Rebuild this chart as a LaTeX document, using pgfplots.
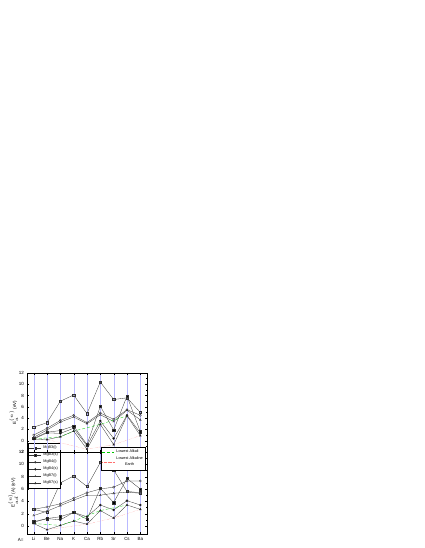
\documentclass[border=0pt]{standalone}
\usepackage{pgfplots}
\pgfplotsset{compat=1.18}
\usepackage{fontspec}
\setmainfont{Liberation Sans}
\definecolor{gridblue}{RGB}{185,185,255}
\definecolor{lgreen}{RGB}{0,200,0}
\definecolor{lred}{RGB}{255,110,110}
\begin{document}
\begin{tikzpicture}[x=1pt,y=1pt]
\useasboundingbox (0,0) rectangle (424,548);
\pgfplotsset{
  chart/.style={
    font=\fontsize{4.5}{5}\selectfont,
    /pgf/number format/assume math mode=true,
    scale only axis, width=120pt,
    xmin=-0.5, xmax=8.5, xtick={0,...,8},
    xmajorgrids, major grid style={gridblue, line width=0.3pt},
    tick align=inside, major tick length=2pt, minor tick length=1pt,
    minor y tick num=1,
    tick style={black, line width=0.3pt},
    axis line style={line width=0.5pt},
    xtick pos=both, ytick pos=both,
    yticklabel style={xshift=0.5pt},
    every axis plot/.append style={line width=0.3pt, mark size=1.1pt},
    legend style={font=\fontsize{3.8}{4}\selectfont, draw=black, line width=0.35pt, fill=white,
      inner sep=0.8pt, row sep=-1.2pt, cells={anchor=west}},
    legend cell align=left,
    legend image post style={xscale=0.7},
  },
  sq/.style={black!80, mark=square, mark options={fill=white, solid}},
  sqf/.style={black!80, mark=square*, mark options={fill=black, solid}},
  ci/.style={black!80, mark=o, mark options={fill=white, solid}},
  cif/.style={black!80, mark=*, mark options={fill=black, solid}},
  tr/.style={black!80, mark=triangle, mark options={fill=white, solid}},
  trf/.style={black!80, mark=triangle*, mark options={fill=black, solid}},
}
% ---------- bottom panel ----------
\begin{axis}[chart, at={(27pt,14pt)}, anchor=south west, height=82pt,
  ymin=-1.3, ymax=12, ytick={0,2,...,12},
  xticklabels={Li,Be,Na,K,Ca,Rb,Sr,Cs,Ba},
  xticklabel style={yshift=0.5pt},
  legend style={at={(0.01,1.11)}, anchor=north west},
  ylabel={E$_{ad}^{(n)}$(A) (eV)}, ylabel style={yshift=-6pt},
]
\addplot[sq] coordinates {(0,2.7)(1,2.2)(2,7.0)(3,8.1)(4,6.4)(5,10.3)(6,9.1)(7,5.6)(8,5.4)};
\addlegendentry{MgB3(i)}
\addplot[sqf] coordinates {(0,0.7)(1,1.2)(2,1.5)(3,2.2)(4,1.1)(5,6.1)(6,3.8)(7,7.7)(8,6.0)};
\addlegendentry{MgB3(s)}
\addplot[ci] coordinates {(0,2.7)(1,3.1)(2,3.6)(3,4.5)(4,5.4)(5,6.0)(6,6.3)(7,7.3)(8,7.3)};
\addlegendentry{MgB4(i)}
\addplot[cif] coordinates {(0,0.6)(1,1.2)(2,1.0)(3,2.2)(4,1.5)(5,3.4)(6,2.6)(7,4.1)(8,3.4)};
\addlegendentry{MgB4(s)}
\addplot[tr] coordinates {(0,1.7)(1,2.4)(2,3.3)(3,4.2)(4,5.0)(5,5.0)(6,5.3)(7,5.5)(8,5.3)};
\addlegendentry{MgB7(i)}
\addplot[trf] coordinates {(0,0.4)(1,-0.6)(2,0.1)(3,0.8)(4,0.3)(5,2.5)(6,1.3)(7,3.4)(8,2.7)};
\addlegendentry{MgB7(s)}
\addplot[lgreen, densely dashed, no markers, forget plot] coordinates {(0,0.4)(2,0.1)(3,0.8)(5,2.5)(7,3.4)};
\addplot[lred, densely dotted, no markers, forget plot] coordinates {(1,-0.6)(4,0.3)(6,1.3)(8,2.7)};
\end{axis}
% ---------- top panel ----------
\begin{axis}[chart, at={(27pt,96pt)}, anchor=south west, height=79pt,
  ymin=-2, ymax=12, ytick={-2,0,...,12},
  xticklabels={},
  legend style={at={(0.99,0.063)}, anchor=north east},
  ylabel={E$_{a}^{(n)}$ (eV)}, ylabel style={yshift=-6pt},
]
\addplot[sq, forget plot] coordinates {(0,2.4)(1,3.2)(2,7.0)(3,8.1)(4,4.8)(5,10.4)(6,7.3)(7,7.6)(8,5.0)};
\addplot[sqf, forget plot] coordinates {(0,0.4)(1,1.5)(2,1.8)(3,2.6)(4,-0.7)(5,6.1)(6,1.9)(7,7.9)(8,1.6)};
\addplot[ci, forget plot] coordinates {(0,1.0)(1,2.2)(2,3.6)(3,4.5)(4,3.2)(5,4.9)(6,3.8)(7,5.5)(8,4.5)};
\addplot[cif, forget plot] coordinates {(0,0.3)(1,1.4)(2,1.3)(3,2.2)(4,-0.9)(5,3.5)(6,0.4)(7,4.5)(8,1.4)};
\addplot[tr, forget plot] coordinates {(0,0.6)(1,1.9)(2,3.3)(3,4.2)(4,3.0)(5,4.6)(6,3.4)(7,5.4)(8,3.7)};
\addplot[trf, forget plot] coordinates {(0,0.3)(1,0.2)(2,0.7)(3,1.7)(4,-1.5)(5,2.9)(6,-0.7)(7,4.4)(8,0.9)};
\addplot[lgreen, densely dashed, no markers] coordinates {(0,0.3)(2,0.7)(3,1.7)(5,2.9)(7,4.4)};
\addlegendentry{Lowest Alkali}
\addplot[lred, densely dotted, no markers] coordinates {(1,0.2)(4,-1.5)(6,-0.7)(8,0.9)};
\addlegendentry{\shortstack[c]{Lowest Alkaline\\Earth}}
\end{axis}
\node[font=\fontsize{4.5}{5}\selectfont, anchor=east] at (27pt,8.5pt) {A=};
\end{tikzpicture}
\end{document}
